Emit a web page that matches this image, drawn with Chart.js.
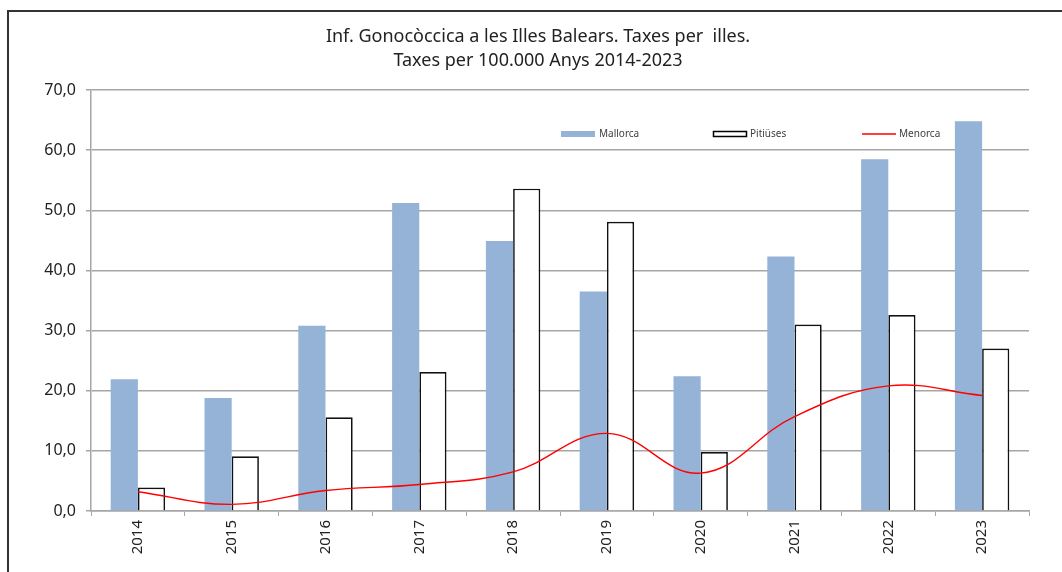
<!DOCTYPE html>
<html>
<head>
<meta charset="utf-8">
<script src="https://cdn.jsdelivr.net/npm/chart.js@4.4.1/dist/chart.umd.min.js"></script>
<style>
  html, body { margin: 0; padding: 0; background: #fff; overflow: hidden; }
  #marc { position: absolute; left: 7px; top: 10px; width: 1100px; height: 600px; border: 2px solid #333; }
  #caixa { position: absolute; left: 0; top: 0; width: 1062px; height: 572px; }
</style>
</head>
<body>
<div id="marc"></div>
<div id="caixa"><canvas id="grafic" width="1062" height="572"></canvas></div>
<script>
// Dades llegides del gràfic
const anys = ['2014', '2015', '2016', '2017', '2018', '2019', '2020', '2021', '2022', '2023'];
const mallorca = [21.9, 18.8, 30.8, 51.2, 44.9, 36.5, 22.4, 42.3, 58.5, 64.8];
const pitiuses = [3.9, 9.1, 15.6, 23.1, 53.6, 48.1, 9.8, 31.0, 32.6, 27.0];
const menorca = [3.2, 1.1, 3.4, 4.4, 6.5, 12.9, 6.3, 15.7, 20.8, 19.2];
const titol = ['Inf. Gonocòccica a les Illes Balears. Taxes per  illes.', 'Taxes per 100.000 Anys 2014-2023'];

const FONT = '"Noto Sans", "Open Sans", sans-serif';
const BLAU = '#95b3d7';
const GRIS = '#a6a6a6';

// titol i llegenda dibuixats a ma
const extres = {
    id: 'extres',
    afterDraw(chart) {
        const ctx = chart.ctx;
        ctx.save();
        ctx.fillStyle = '#222';
        ctx.font = '18px ' + FONT;
        ctx.textAlign = 'center';
        ctx.textBaseline = 'middle';
        ctx.fillText(titol[0], 538, 37);
        ctx.fillText(titol[1], 538, 61);

        // llegenda
        ctx.font = '10px ' + FONT;
        ctx.textAlign = 'left';
        const y = 134;
        ctx.fillStyle = BLAU;
        ctx.fillRect(561, y - 3, 34, 6);
        ctx.fillStyle = '#404040';
        ctx.fillText('Mallorca', 599, y);

        ctx.fillStyle = '#fff';
        ctx.fillRect(713, y - 3, 33, 5);
        ctx.strokeStyle = '#000';
        ctx.lineWidth = 1.5;
        ctx.strokeRect(713.5, y - 2.5, 33, 5);
        ctx.fillStyle = '#404040';
        ctx.fillText('Pitiüses', 750, y);

        ctx.strokeStyle = '#ff0000';
        ctx.lineWidth = 1.3;
        ctx.beginPath();
        ctx.moveTo(862, y);
        ctx.lineTo(896, y);
        ctx.stroke();
        ctx.fillText('Menorca', 899, y);
        ctx.restore();
    }
};

new Chart(document.getElementById('grafic'), {
    type: 'bar',
    plugins: [extres],
    data: {
        labels: anys,
        datasets: [
            {
                type: 'line',
                label: 'Menorca',
                data: menorca,
                borderColor: '#ff0000',
                borderWidth: 1.4,
                pointRadius: 0,
                tension: 0.4,
                fill: false,
                order: 1
            },
            {
                label: 'Mallorca',
                data: mallorca,
                backgroundColor: BLAU,
                borderWidth: 0,
                categoryPercentage: 0.58,
                barPercentage: 1.0,
                order: 2
            },
            {
                label: 'Pitiüses',
                data: pitiuses,
                backgroundColor: '#ffffff',
                borderColor: '#111111',
                borderWidth: 1.7,
                categoryPercentage: 0.58,
                barPercentage: 1.0,
                order: 2
            }
        ]
    },
    options: {
        responsive: false,
        animation: false,
        layout: { padding: { top: 90, right: 33, bottom: 0, left: 0 } },
        plugins: {
            legend: { display: false },
            title: { display: false },
            tooltip: { enabled: false }
        },
        scales: {
            x: {
                afterFit: s => { s.height = 61; },
                grid: { drawOnChartArea: false, drawTicks: true, tickLength: 5, color: GRIS, offset: true },
                border: { color: GRIS, width: 1.5 },
                ticks: { color: '#222', font: { family: FONT, size: 15 }, minRotation: 90, maxRotation: 90, padding: 4 }
            },
            y: {
                min: 0,
                max: 70,
                afterFit: s => { s.width = 91; },
                grid: { color: GRIS, lineWidth: 1.5, tickLength: 5 },
                border: { color: GRIS, width: 1.5 },
                ticks: {
                    stepSize: 10,
                    color: '#222',
                    padding: 10,
                    font: { family: FONT, size: 16 },
                    callback: v => v.toFixed(1).replace('.', ',')
                }
            }
        }
    }
});
</script>
</body>
</html>
